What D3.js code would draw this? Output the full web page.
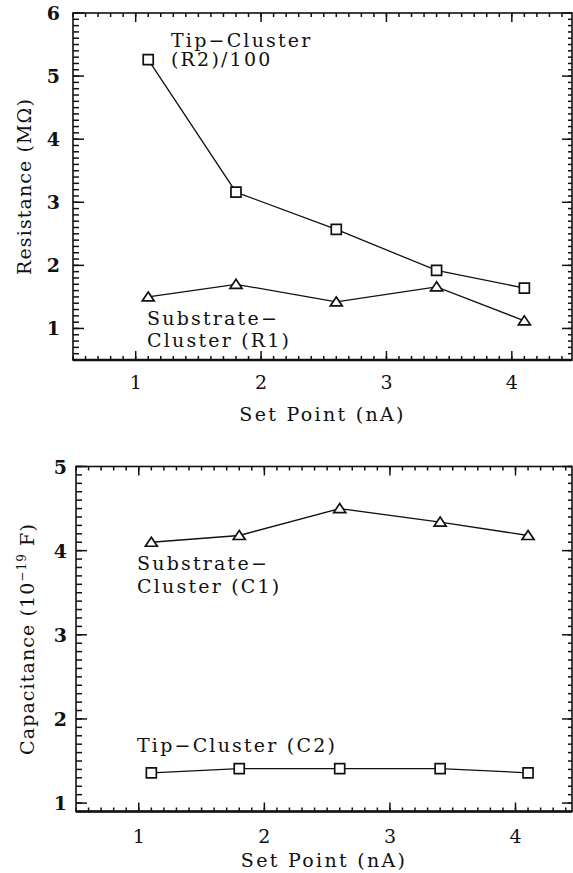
<!DOCTYPE html>
<html>
<head>
<meta charset="utf-8">
<script src="https://cdn.jsdelivr.net/npm/d3@7"></script>
<style>
  body { margin: 0; background: #fff; }
  svg text { font-family: "DejaVu Serif", "Liberation Serif", serif; fill: #111; }
</style>
</head>
<body>
<div id="chart"></div>
<script>
// set points (nA)
const setPoints = [1.1, 1.8, 2.6, 3.4, 4.1]
// resistance, MOhm
const tipR2 = [5.26, 3.16, 2.57, 1.92, 1.64]
const subR1 = [1.50, 1.70, 1.42, 1.66, 1.12]
// capacitance, 1e-19 F
const subC1 = [4.10, 4.18, 4.50, 4.34, 4.18]
const tipC2 = [1.36, 1.41, 1.41, 1.41, 1.36]

const xTicks = [1, 2, 3, 4]
const yTicksR = [1, 2, 3, 4, 5, 6]
const yTicksC = [1, 2, 3, 4, 5]

const W = 573
const H = 873

const svg = d3.select('#chart').append('svg')
    .attr('width', W)
    .attr('height', H)

const minorRange = (lo, hi) => d3.range(Math.ceil(lo * 10), Math.floor(hi * 10) + 1)
    .map(d => d / 10)

// short tick marks drawn straight from the scales
function vTicks(g, x, values, yBase, len) {
    g.append('g').selectAll('line').data(values).join('line')
        .attr('x1', d => x(d)).attr('x2', d => x(d))
        .attr('y1', yBase).attr('y2', yBase + len)
        .attr('stroke', '#111').attr('stroke-width', 1.5)
}

function hTicks(g, y, values, xBase, len) {
    g.append('g').selectAll('line').data(values).join('line')
        .attr('y1', d => y(d)).attr('y2', d => y(d))
        .attr('x1', xBase).attr('x2', xBase + len)
        .attr('stroke', '#111').attr('stroke-width', 1.5)
}

function drawPanel(cfg) {
    const x = d3.scaleLinear().domain(cfg.xDomain).range(cfg.xRange)
    const y = d3.scaleLinear().domain(cfg.yDomain).range(cfg.yRange)
    const g = svg.append('g')
    const [x0, x1] = cfg.xRange
    const [y0, y1] = cfg.yRange

    const xMinor = minorRange(cfg.xDomain[0], cfg.xDomain[1])
    const yMinor = minorRange(cfg.yDomain[0], cfg.yDomain[1])

    vTicks(g, x, xMinor, y0, -4)
    vTicks(g, x, xMinor, y1, 4)
    hTicks(g, y, yMinor, x0, 6)
    hTicks(g, y, yMinor, x1, -4)

    vTicks(g, x, xTicks, y0, -9)
    vTicks(g, x, xTicks, y1, 9)
    hTicks(g, y, cfg.yTicks, x0, 11)
    hTicks(g, y, cfg.yTicks, x1, -10)

    // frame
    g.append('rect')
        .attr('x', x0).attr('y', y1)
        .attr('width', x1 - x0).attr('height', y0 - y1)
        .attr('fill', 'none').attr('stroke', '#111').attr('stroke-width', 1.6)
    g.append('line')
        .attr('x1', x0).attr('x2', x1).attr('y1', y0).attr('y2', y0)
        .attr('stroke', '#111').attr('stroke-width', 2.4)

    // tick labels
    g.append('g').selectAll('text').data(xTicks).join('text')
        .attr('x', d => x(d)).attr('y', y0 + cfg.xLabelDy)
        .attr('text-anchor', 'middle').attr('font-size', 19)
        .text(d => d)
    g.append('g').selectAll('text').data(cfg.yTicks).join('text')
        .attr('x', x0 - cfg.yLabelDx).attr('y', d => y(d) + 7)
        .attr('text-anchor', 'end').attr('font-size', 19)
        .attr('font-weight', 'bold')
        .text(d => d)

    // axis titles
    g.append('text')
        .attr('x', (x0 + x1) / 2).attr('y', y0 + cfg.xTitleDy)
        .attr('text-anchor', 'middle').attr('font-size', 19)
        .attr('letter-spacing', 2.3)
        .text('Set Point (nA)')
    const yt = g.append('text')
        .attr('transform', `translate(${cfg.yTitleX},${(y0 + y1) / 2}) rotate(-90)`)
        .attr('text-anchor', 'middle').attr('font-size', 19)
        .attr('letter-spacing', 1.1)
    cfg.yTitle(yt)

    // series
    const line = d3.line().x((d, i) => x(setPoints[i])).y(d => y(d))
    cfg.series.forEach(s => {
        g.append('path').datum(s.values)
            .attr('d', line)
            .attr('fill', 'none').attr('stroke', '#111').attr('stroke-width', 1.3)
        const pts = g.append('g').selectAll('path').data(s.values).join('path')
            .attr('transform', (d, i) => `translate(${x(setPoints[i])},${y(d)})`)
            .attr('fill', '#fff').attr('stroke', '#111').attr('stroke-width', 1.7)
        if (s.marker === 'square') {
            pts.attr('d', 'M-5,-5H5V5H-5Z')
        } else {
            pts.attr('d', 'M0,-5L6,4H-6Z')
        }
    })

    // annotations
    cfg.notes.forEach(n => {
        g.append('text')
            .attr('x', n.x).attr('y', n.y)
            .attr('font-size', 19)
            .attr('letter-spacing', 2.2)
            .text(n.text)
    })
}

drawPanel({
    xDomain: [0.5, 4.48],
    xRange: [73, 572],
    yDomain: [0.5, 6],
    yRange: [360, 13],
    yTicks: yTicksR,
    xLabelDy: 29,
    yLabelDx: 13,
    xTitleDy: 61,
    yTitleX: 31,
    yTitle: t => t.text('Resistance (MΩ)'),
    series: [
        { values: tipR2, marker: 'square' },
        { values: subR1, marker: 'triangle' },
    ],
    notes: [
        { text: 'Tip\u2212Cluster', x: 171, y: 47 },
        { text: '(R2)/100', x: 171, y: 66 },
        { text: 'Substrate\u2212', x: 147, y: 325 },
        { text: 'Cluster (R1)', x: 147, y: 347 },
    ],
})

drawPanel({
    xDomain: [0.5, 4.45],
    xRange: [76, 572],
    yDomain: [0.9, 5],
    yRange: [811.5, 466.5],
    yTicks: yTicksC,
    xLabelDy: 31,
    yLabelDx: 9,
    xTitleDy: 55,
    yTitleX: 34,
    yTitle: t => {
        t.append('tspan').text('Capacitance (10')
        t.append('tspan').attr('dy', -8).attr('font-size', 12).text('\u221219')
        t.append('tspan').attr('dy', 8).text(' F)')
    },
    series: [
        { values: subC1, marker: 'triangle' },
        { values: tipC2, marker: 'square' },
    ],
    notes: [
        { text: 'Substrate\u2212', x: 137, y: 570 },
        { text: 'Cluster (C1)', x: 137, y: 593 },
        { text: 'Tip\u2212Cluster (C2)', x: 137, y: 752 },
    ],
})
</script>
</body>
</html>
